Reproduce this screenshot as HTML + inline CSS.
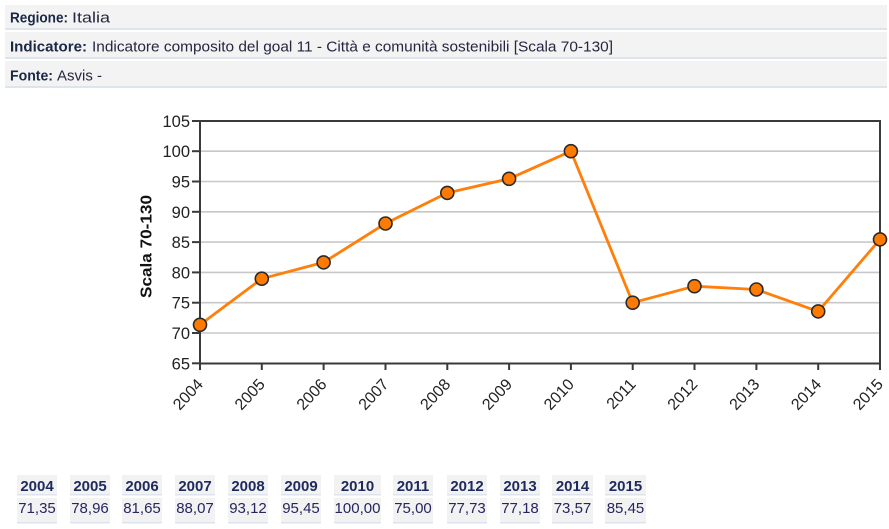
<!DOCTYPE html>
<html>
<head>
<meta charset="utf-8">
<style>
  html,body{margin:0;padding:0;background:#fff;}
  svg{display:block;}
  text{font-family:"Liberation Sans",Arial,sans-serif;}
</style>
</head>
<body>
<svg width="889" height="529" viewBox="0 0 889 529" xmlns="http://www.w3.org/2000/svg">
  <rect width="889" height="529" fill="#fff"/>

  <!-- header rows -->
  <rect x="5" y="5" width="882" height="23" fill="#f3f3f3"/>
  <rect x="5" y="28" width="882" height="2" fill="#dde4ec"/>
  <rect x="5" y="32" width="882" height="25" fill="#f3f3f3"/>
  <rect x="5" y="57" width="882" height="2" fill="#dde4ec"/>
  <rect x="5" y="61" width="882" height="25" fill="#f3f3f3"/>
  <rect x="5" y="86" width="882" height="2" fill="#dde4ec"/>

  <text x="10" y="22.5" font-size="14.5" font-weight="bold" fill="#1a2745" textLength="58" lengthAdjust="spacingAndGlyphs">Regione:</text>
  <text x="72" y="22.5" font-size="14.5" fill="#262640" textLength="38" lengthAdjust="spacingAndGlyphs">Italia</text>

  <text x="10" y="51.5" font-size="14.5" font-weight="bold" fill="#1a2745" textLength="77" lengthAdjust="spacingAndGlyphs">Indicatore:</text>
  <text x="92" y="51.5" font-size="14.5" fill="#262640" textLength="521" lengthAdjust="spacingAndGlyphs">Indicatore composito del goal 11 - Città e comunità sostenibili [Scala 70-130]</text>

  <text x="10" y="80.5" font-size="14.5" font-weight="bold" fill="#1a2745" textLength="43" lengthAdjust="spacingAndGlyphs">Fonte:</text>
  <text x="57" y="80.5" font-size="14.5" fill="#262640" textLength="45" lengthAdjust="spacingAndGlyphs">Asvis -</text>

  <!-- gridlines -->
  <g stroke="#c8c8c8" stroke-width="1.6">
    <line x1="200" y1="151.2" x2="880" y2="151.2"/>
    <line x1="200" y1="181.5" x2="880" y2="181.5"/>
    <line x1="200" y1="211.8" x2="880" y2="211.8"/>
    <line x1="200" y1="242.1" x2="880" y2="242.1"/>
    <line x1="200" y1="272.4" x2="880" y2="272.4"/>
    <line x1="200" y1="302.7" x2="880" y2="302.7"/>
    <line x1="200" y1="333.0" x2="880" y2="333.0"/>
  </g>

  <!-- plot frame -->
  <rect x="200" y="121" width="680" height="242.5" fill="none" stroke="#3a3a3a" stroke-width="2"/>

  <!-- y ticks -->
  <g stroke="#3a3a3a" stroke-width="2">
    <line x1="192" y1="121" x2="200" y2="121"/>
    <line x1="192" y1="151.2" x2="200" y2="151.2"/>
    <line x1="192" y1="181.5" x2="200" y2="181.5"/>
    <line x1="192" y1="211.8" x2="200" y2="211.8"/>
    <line x1="192" y1="242.1" x2="200" y2="242.1"/>
    <line x1="192" y1="272.4" x2="200" y2="272.4"/>
    <line x1="192" y1="302.7" x2="200" y2="302.7"/>
    <line x1="192" y1="333.0" x2="200" y2="333.0"/>
    <line x1="192" y1="363.3" x2="200" y2="363.3"/>
  </g>
  <g font-size="16.5" fill="#222" text-anchor="end">
    <text x="190" y="127">105</text>
    <text x="190" y="157">100</text>
    <text x="190" y="187.5">95</text>
    <text x="190" y="217.8">90</text>
    <text x="190" y="248">85</text>
    <text x="190" y="278.4">80</text>
    <text x="190" y="308.7">75</text>
    <text x="190" y="339">70</text>
    <text x="190" y="369.3">65</text>
  </g>

  <!-- y axis title -->
  <text transform="translate(151.5,246.5) rotate(-90)" text-anchor="middle" font-size="16" font-weight="bold" fill="#111" textLength="103" lengthAdjust="spacingAndGlyphs">Scala 70-130</text>

  <!-- x ticks -->
  <g stroke="#3a3a3a" stroke-width="2">
    <line x1="200" y1="363" x2="200" y2="370"/>
    <line x1="261.8" y1="363" x2="261.8" y2="370"/>
    <line x1="323.6" y1="363" x2="323.6" y2="370"/>
    <line x1="385.5" y1="363" x2="385.5" y2="370"/>
    <line x1="447.3" y1="363" x2="447.3" y2="370"/>
    <line x1="509.1" y1="363" x2="509.1" y2="370"/>
    <line x1="570.9" y1="363" x2="570.9" y2="370"/>
    <line x1="632.7" y1="363" x2="632.7" y2="370"/>
    <line x1="694.5" y1="363" x2="694.5" y2="370"/>
    <line x1="756.4" y1="363" x2="756.4" y2="370"/>
    <line x1="818.2" y1="363" x2="818.2" y2="370"/>
    <line x1="880" y1="363" x2="880" y2="370"/>
  </g>
  <g font-size="16" fill="#222" text-anchor="end">
    <text transform="translate(204,385) rotate(-47)">2004</text>
    <text transform="translate(265.8,385) rotate(-47)">2005</text>
    <text transform="translate(327.6,385) rotate(-47)">2006</text>
    <text transform="translate(389.5,385) rotate(-47)">2007</text>
    <text transform="translate(451.3,385) rotate(-47)">2008</text>
    <text transform="translate(513.1,385) rotate(-47)">2009</text>
    <text transform="translate(574.9,385) rotate(-47)">2010</text>
    <text transform="translate(636.7,385) rotate(-47)">2011</text>
    <text transform="translate(698.5,385) rotate(-47)">2012</text>
    <text transform="translate(760.4,385) rotate(-47)">2013</text>
    <text transform="translate(822.2,385) rotate(-47)">2014</text>
    <text transform="translate(884,385) rotate(-47)">2015</text>
  </g>

  <!-- series -->
  <polyline fill="none" stroke="#ff7f0a" stroke-width="2.8" stroke-linejoin="round"
    points="200,324.8 261.8,278.7 323.6,262.4 385.5,223.5 447.3,192.9 509.1,178.8 570.9,151.2 632.7,302.7 694.5,286.2 756.4,289.5 818.2,311.4 880,239.4"/>
  <g fill="#ff7a00" stroke="#2a2a2a" stroke-width="1.6">
    <circle cx="200" cy="324.8" r="6.5"/>
    <circle cx="261.8" cy="278.7" r="6.5"/>
    <circle cx="323.6" cy="262.4" r="6.5"/>
    <circle cx="385.5" cy="223.5" r="6.5"/>
    <circle cx="447.3" cy="192.9" r="6.5"/>
    <circle cx="509.1" cy="178.8" r="6.5"/>
    <circle cx="570.9" cy="151.2" r="6.5"/>
    <circle cx="632.7" cy="302.7" r="6.5"/>
    <circle cx="694.5" cy="286.2" r="6.5"/>
    <circle cx="756.4" cy="289.5" r="6.5"/>
    <circle cx="818.2" cy="311.4" r="6.5"/>
    <circle cx="880" cy="239.4" r="6.5"/>
  </g>

  <!-- data table -->
  <g fill="#f2f2f2">
    <rect x="17" y="475" width="40" height="19"/><rect x="17" y="498" width="40" height="24"/>
    <rect x="70" y="475" width="40" height="19"/><rect x="70" y="498" width="40" height="24"/>
    <rect x="122" y="475" width="40" height="19"/><rect x="122" y="498" width="40" height="24"/>
    <rect x="175" y="475" width="40" height="19"/><rect x="175" y="498" width="40" height="24"/>
    <rect x="228" y="475" width="40" height="19"/><rect x="228" y="498" width="40" height="24"/>
    <rect x="281" y="475" width="40" height="19"/><rect x="281" y="498" width="40" height="24"/>
    <rect x="334" y="475" width="47" height="19"/><rect x="334" y="498" width="47" height="24"/>
    <rect x="393" y="475" width="40" height="19"/><rect x="393" y="498" width="40" height="24"/>
    <rect x="447" y="475" width="40" height="19"/><rect x="447" y="498" width="40" height="24"/>
    <rect x="500" y="475" width="40" height="19"/><rect x="500" y="498" width="40" height="24"/>
    <rect x="552" y="475" width="41" height="19"/><rect x="552" y="498" width="41" height="24"/>
    <rect x="605" y="475" width="41" height="19"/><rect x="605" y="498" width="41" height="24"/>
  </g>
  <g fill="#dde4ee">
    <rect x="17" y="494" width="40" height="1.5"/><rect x="17" y="522" width="40" height="1.5"/>
    <rect x="70" y="494" width="40" height="1.5"/><rect x="70" y="522" width="40" height="1.5"/>
    <rect x="122" y="494" width="40" height="1.5"/><rect x="122" y="522" width="40" height="1.5"/>
    <rect x="175" y="494" width="40" height="1.5"/><rect x="175" y="522" width="40" height="1.5"/>
    <rect x="228" y="494" width="40" height="1.5"/><rect x="228" y="522" width="40" height="1.5"/>
    <rect x="281" y="494" width="40" height="1.5"/><rect x="281" y="522" width="40" height="1.5"/>
    <rect x="334" y="494" width="47" height="1.5"/><rect x="334" y="522" width="47" height="1.5"/>
    <rect x="393" y="494" width="40" height="1.5"/><rect x="393" y="522" width="40" height="1.5"/>
    <rect x="447" y="494" width="40" height="1.5"/><rect x="447" y="522" width="40" height="1.5"/>
    <rect x="500" y="494" width="40" height="1.5"/><rect x="500" y="522" width="40" height="1.5"/>
    <rect x="552" y="494" width="41" height="1.5"/><rect x="552" y="522" width="41" height="1.5"/>
    <rect x="605" y="494" width="41" height="1.5"/><rect x="605" y="522" width="41" height="1.5"/>
  </g>
  <g font-size="15" font-weight="bold" fill="#1e2a5e" text-anchor="middle">
    <text x="37" y="491">2004</text>
    <text x="90" y="491">2005</text>
    <text x="142" y="491">2006</text>
    <text x="195" y="491">2007</text>
    <text x="248" y="491">2008</text>
    <text x="301" y="491">2009</text>
    <text x="357.5" y="491">2010</text>
    <text x="413" y="491">2011</text>
    <text x="467" y="491">2012</text>
    <text x="520" y="491">2013</text>
    <text x="572.5" y="491">2014</text>
    <text x="625.5" y="491">2015</text>
  </g>
  <g font-size="15" fill="#262660" text-anchor="middle">
    <text x="37" y="513">71,35</text>
    <text x="90" y="513">78,96</text>
    <text x="142" y="513">81,65</text>
    <text x="195" y="513">88,07</text>
    <text x="248" y="513">93,12</text>
    <text x="301" y="513">95,45</text>
    <text x="357.5" y="513">100,00</text>
    <text x="413" y="513">75,00</text>
    <text x="467" y="513">77,73</text>
    <text x="520" y="513">77,18</text>
    <text x="572.5" y="513">73,57</text>
    <text x="625.5" y="513">85,45</text>
  </g>
</svg>
</body>
</html>
